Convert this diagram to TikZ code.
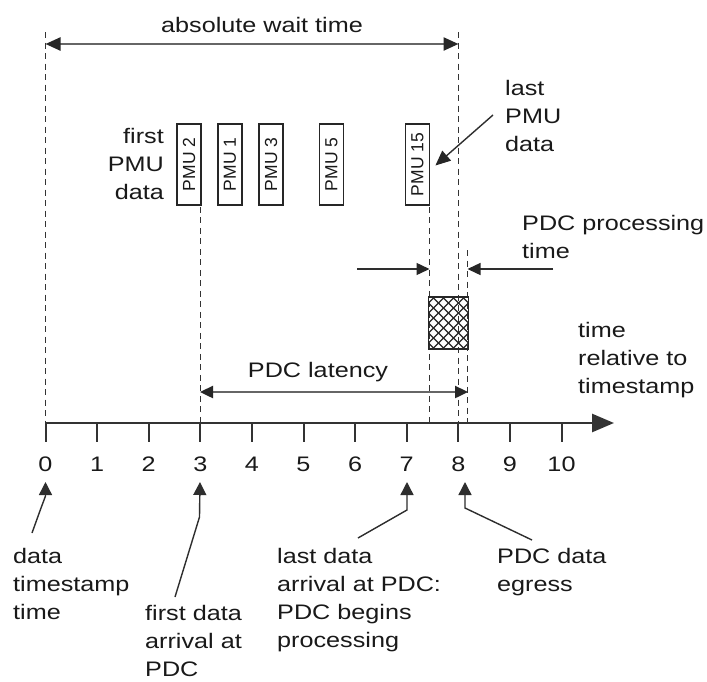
\documentclass[tikz,border=0pt]{standalone}
\usepackage{fontspec}
\setmainfont{Liberation Sans}[FakeStretch=1.2]
\newfontfamily\pmufont{Liberation Sans}
\usetikzlibrary{arrows.meta}
\begin{document}
\begin{tikzpicture}[x=1pt,y=-1pt,
  every node/.style={text=black!90},
  txt/.style={inner sep=0pt, font=\fontsize{21}{28}\selectfont},
  multi/.style={txt, align=left, anchor=north west},
  pmubox/.style={draw=black!85, line width=1.8pt, rotate=90, minimum width=81pt,
    minimum height=24pt, inner sep=0pt, font=\pmufont\fontsize{17.5}{20}\selectfont},
  guide/.style={black!80, line width=1.2pt, dash pattern=on 6pt off 4.5pt},
  span/.style={black!60, line width=2.4pt},
  bigtip/.tip={Triangle[length=15pt,width=13pt,color=black!85]},
  midtip/.tip={Triangle[length=13pt,width=12pt,color=black!85]},
  ptr/.style={black!82, line width=1.4pt, -{Triangle[length=13pt,width=13pt]}},
  tick/.style={black!80, line width=2pt}
]
\fill[white] (0,0) rectangle (707,681);
\useasboundingbox (0,0) rectangle (707,681);

% time axis positions
\foreach \i in {0,...,10} \coordinate (t\i) at ({45.5+51.6*\i},423);
\coordinate (tlast) at (429.5,423);
\coordinate (tegress) at (467.5,423);
\coordinate (axend) at (614,423);

% vertical guides
\draw[guide] (t0 |- 0,32) -- (t0);
\draw[guide] (t8 |- 0,32) -- (t8);
\draw[guide] (tegress |- 0,250) -- (tegress);

% PMU data boxes
\node[pmubox] (pmu2) at (189,164.5) {PMU 2};
\node[pmubox] (pmu1) at (230,164.5) {PMU 1};
\node[pmubox] (pmu3) at (271,164.5) {PMU 3};
\node[pmubox] (pmu5) at (331.5,164.5) {PMU 5};
\node[pmubox] (pmu15) at (417.5,164.5) {PMU 15};
\draw[guide] ([yshift=-1pt]pmu2.north west -| t3) -- (t3);
\draw[guide] ([yshift=-1pt]pmu15.north west -| tlast) -- (tlast);

% PDC processing block
\node[draw=black!85, line width=1.8pt, minimum width=40pt, minimum height=52pt, inner sep=0pt,
  path picture={
    \foreach \k in {-80,-70,...,80} {
      \draw[black!85, line width=1.1pt] ([xshift=\k pt]path picture bounding box.center)
        +(-40pt,-40pt) -- +(40pt,40pt);
      \draw[black!85, line width=1.1pt] ([xshift=\k pt]path picture bounding box.center)
        +(-40pt,40pt) -- +(40pt,-40pt);
    }
  }] (proc) at (448.5,323) {};

% time axis
\draw[black!80, line width=2.6pt, -{Triangle[length=22pt,width=18pt]}] (t0) -- (axend);
\foreach \i in {0,...,10} {
  \draw[tick] (t\i) -- ++(0,19);
  \node[txt, anchor=base] (n\i) at ({45.5+51.6*\i},471) {\i};
}

% spans
\coordinate (aw-l) at (45.5,44);
\coordinate (aw-r) at (458.5,44);
\draw[span, bigtip-bigtip] (aw-l) -- (aw-r);
\node[txt, anchor=base] (abswait) at (262,32) {absolute wait time};

\coordinate (lat-l) at (200,392);
\coordinate (lat-r) at (468,392);
\draw[span, midtip-midtip] (lat-l) -- (lat-r);
\node[txt, anchor=base] (latency) at (318,377) {PDC latency};

% processing time markers
\coordinate (pp-l) at (357,269);
\coordinate (pp-r) at (553,269);
\draw[black!82, line width=1.4pt, -midtip] (pp-l) -- (tlast |- pp-l);
\draw[black!82, line width=1.4pt, -midtip] (pp-r) -- (tegress |- pp-r);

% labels
\node[multi, anchor=north east, align=right] (firstpmu) at (164,123.4) {\strut first\\PMU\\data};
\node[multi] (lastpmu) at (505,75.4) {\strut last\\PMU\\data};
\coordinate (lp-start) at (493,115);
\draw[black!82, line width=1.4pt, -bigtip] (lp-start) -- ([xshift=5pt,yshift=-1pt]pmu15.south);

\node[multi] (proctime) at (522,210.4) {\strut PDC processing\\time};
\node[multi] (axislabel) at (578,317.4) {\strut time\\relative to\\timestamp};

\node[multi] (l-ts) at (13,543.4) {\strut data\\timestamp\\time};
\node[multi] (l-first) at (145,600.4) {\strut first data\\arrival at\\PDC};
\node[multi] (l-last) at (277,543.4) {\strut last data\\arrival at PDC:\\PDC begins\\processing};
\node[multi] (l-egress) at (497,543.4) {\strut PDC data\\egress};

% pointers to the axis
\coordinate (p0) at (45.5,482);
\coordinate (p3) at (200,482);
\coordinate (p7) at (407,482);
\coordinate (p8) at (465,482);
\coordinate (s0) at (32,533);
\coordinate (s3) at (175,597);
\coordinate (s7) at (358,538);
\coordinate (s8) at (532,540);
\draw[ptr] (s0) -- (41,508) -- (45.5,496) -- (p0);
\draw[ptr] (s3) -- (199.5,517) -- (p3);
\draw[ptr] (s7) -- (407,510) -- (p7);
\draw[ptr] (s8) -- (465,508) -- (p8);
\end{tikzpicture}
\end{document}
